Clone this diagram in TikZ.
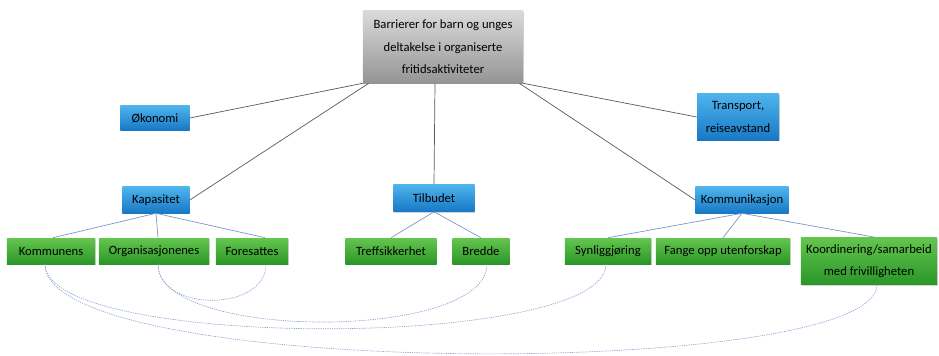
\documentclass[tikz,border=0pt]{standalone}
\usepackage{fontspec}
\setmainfont{Carlito}
\usepackage{tikz}
\usetikzlibrary{shadows,calc}

\definecolor{bluetop}{RGB}{78,180,236}
\definecolor{bluebot}{RGB}{24,120,198}
\definecolor{greentop}{RGB}{100,198,78}
\definecolor{greenbot}{RGB}{42,150,40}
\definecolor{greytop}{RGB}{218,218,218}
\definecolor{greybot}{RGB}{148,148,148}
\definecolor{linkblue}{RGB}{125,150,200}
\definecolor{curveblue}{RGB}{140,160,210}

\tikzset{
  box/.style={rectangle, inner sep=1pt, align=center,
    font=\fontsize{9}{16}\selectfont, text=black,
    drop shadow={shadow xshift=0.6pt, shadow yshift=-0.9pt, opacity=0.35}},
  topbox/.style={box, top color=greytop, bottom color=greybot},
  bluebox/.style={box, top color=bluetop, bottom color=bluebot},
  greenbox/.style={box, top color=greentop, bottom color=greenbot},
  mainline/.style={draw=black!65, line width=0.5pt},
  subline/.style={draw=linkblue, line width=0.5pt},
  linkcurve/.style={draw=curveblue, dash pattern=on 0.9pt off 0.7pt, line width=0.45pt}
}

\begin{document}
\begin{tikzpicture}[x=0.025cm, y=-0.025cm]
  \useasboundingbox (0,0) rectangle (939,355);
  % Nodes
  \node[topbox, minimum width=4cm, minimum height=1.8cm] (barr) at (443,47)
    {Barrierer for barn og unges\\deltakelse i organiserte\\fritidsaktiviteter};
  \node[bluebox, minimum width=1.725cm, minimum height=0.6cm] (okon) at (155,118) {Økonomi};
  \node[bluebox, minimum width=2.05cm, minimum height=1.15cm] (trans) at (738,117) {Transport,\\reiseavstand};
  \node[bluebox, minimum width=1.675cm, minimum height=0.65cm] (kap) at (156,200) {Kapasitet};
  \node[bluebox, minimum width=2.025cm, minimum height=0.675cm] (tilb) at (434,198) {Tilbudet};
  \node[bluebox, minimum width=2.325cm, minimum height=0.65cm] (komm) at (742,200) {Kommunikasjon};
  \node[greenbox, minimum width=2.2cm, minimum height=0.65cm] (kommun) at (51,251) {Kommunens};
  \node[greenbox, minimum width=2.75cm, minimum height=0.65cm] (org) at (154,251) {Organisasjonenes};
  \node[greenbox, minimum width=1.8cm, minimum height=0.65cm] (fore) at (252,251) {Foresattes};
  \node[greenbox, minimum width=2.275cm, minimum height=0.65cm] (treff) at (391,251) {Treffsikkerhet};
  \node[greenbox, minimum width=1.425cm, minimum height=0.65cm] (bredde) at (481,251) {Bredde};
  \node[greenbox, minimum width=2.15cm, minimum height=0.65cm] (synl) at (608,251) {Synliggjøring};
  \node[greenbox, minimum width=3.35cm, minimum height=0.65cm] (fange) at (723,251) {Fange opp utenforskap};
  \node[greenbox, minimum width=3.4cm, minimum height=1.175cm] (koord) at (869,261)
    {Koordinering/samarbeid\\med frivilligheten};
  % Edges
  \draw[mainline] (barr.south west) -- (okon.east);
  \draw[mainline] ($(barr.south west)+(6,0)$) -- (kap.east);
  \draw[mainline] ($(barr.south)+(-8,0)$) -- (tilb.north);
  \draw[mainline] (barr.south east) -- (trans.west);
  \draw[mainline] ($(barr.south east)+(-4,0)$) -- (komm.west);
  \draw[subline] (kap.south) -- ($(kommun.north)+(2,0)$);
  \draw[subline] (kap.south) -- ($(org.north)+(4,0)$);
  \draw[subline] (kap.south) -- ($(fore.north)+(13,0)$);
  \draw[subline] (tilb.south) -- (treff.north);
  \draw[subline] (tilb.south) -- (bredde.north);
  \draw[subline] (komm.south) -- (synl.north);
  \draw[subline] (komm.south) -- (fange.north);
  \draw[subline] (komm.south) -- ($(koord.north)+(6,0)$);
  % Links between the groups
  \draw[linkcurve] ($(org.south)+(4,0)$) .. controls +(0,48) and +(0,48) .. ($(fore.south)+(14,0)$);
  \draw[linkcurve] ($(org.south)+(4,0)$) .. controls +(0,77) and +(0,77) .. ($(bredde.south)+(6,0)$);
  \draw[linkcurve] ($(kommun.south)+(-6,0)$) .. controls +(0,86) and +(0,86) .. ($(synl.south)+(-2,0)$);
  \draw[linkcurve] ($(kommun.south)+(-6,0)$) .. controls +(0,116) and +(0,95) .. ($(koord.south)+(8,0)$);
\end{tikzpicture}
\end{document}
